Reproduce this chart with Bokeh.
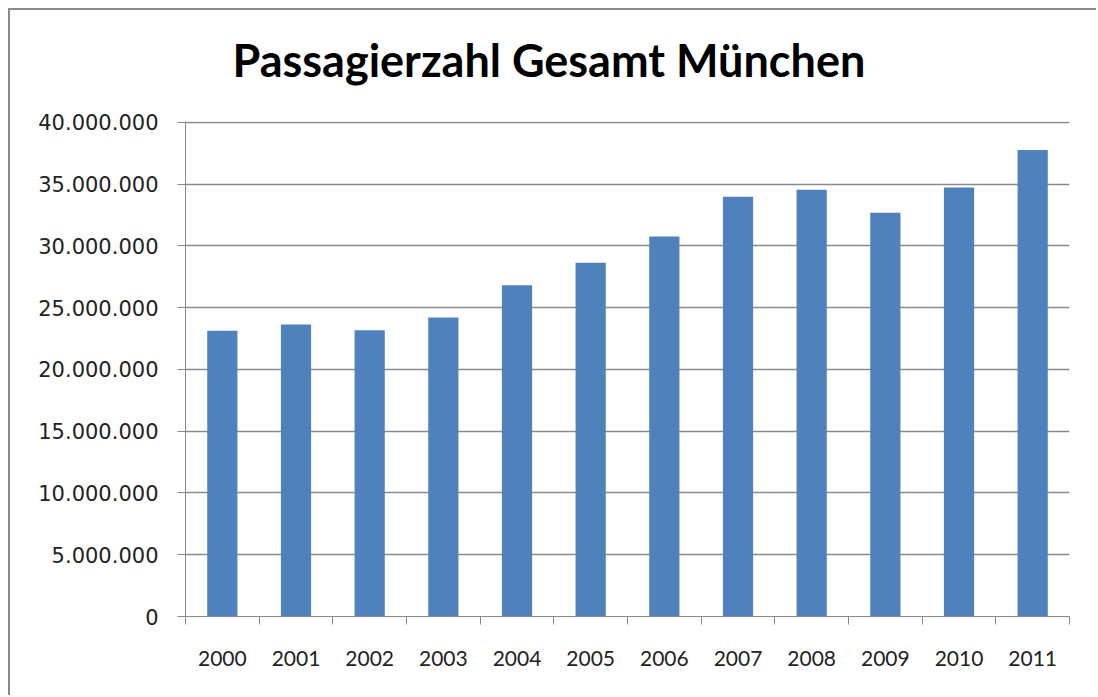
from bokeh.plotting import figure
from bokeh.models import FixedTicker, Range1d, Title
from bokeh.embed import file_html
from bokeh.resources import INLINE

years = ["2000", "2001", "2002", "2003", "2004", "2005", "2006", "2007", "2008", "2009", "2010", "2011"]
passengers = [23_120_000, 23_640_000, 23_160_000, 24_190_000, 26_810_000, 28_620_000,
              30_760_000, 33_960_000, 34_530_000, 32_680_000, 34_720_000, 37_760_000]
y_ticks = [0, 5_000_000, 10_000_000, 15_000_000, 20_000_000, 25_000_000, 30_000_000, 35_000_000, 40_000_000]
y_tick_labels = ["0", "5.000.000", "10.000.000", "15.000.000", "20.000.000", "25.000.000",
                 "30.000.000", "35.000.000", "40.000.000"]
title_text = "Passagierzahl Gesamt München"

n = len(years)
centers = [i + 0.5 for i in range(n)]
bounds = list(range(n + 1))

p = figure(width=1088, height=687, output_backend="svg", toolbar_location=None,
           x_range=Range1d(0, n), y_range=Range1d(0, 40_060_000),
           min_border_left=175, min_border_right=29, min_border_top=111, min_border_bottom=81)
p.styles = {"margin-left": "10px", "margin-top": "10px",
            "box-shadow": "-2px -2px 0px 0px #8a8a8a"}

p.vbar(x=centers, top=passengers, width=0.41, bottom=0, fill_color="#4F81BD", line_color=None)

# small spacer between title and plot frame
p.add_layout(Title(text=" ", text_font_size="1px", standoff=9), "above")

p.title.text = title_text
p.title.text_font = "Lato"
p.title.text_font_style = "bold"
p.title.text_font_size = "45px"
p.title.align = "left"
p.title.offset = 47
p.title.vertical_align = "top"
p.title.text_color = "#000000"
p.title.standoff = 42

p.outline_line_color = None
p.background_fill_color = "white"
p.border_fill_color = "white"

# grid
p.xgrid.visible = False
p.ygrid.ticker = FixedTicker(ticks=y_ticks)
p.ygrid.grid_line_color = "#8a8a8a"
p.ygrid.grid_line_width = 1.5

# y axis
p.yaxis.ticker = FixedTicker(ticks=y_ticks)
p.yaxis.major_label_overrides = {t: l for t, l in zip(y_ticks, y_tick_labels)}
p.yaxis.major_label_text_font = "DejaVu Sans"
p.yaxis.major_label_text_font_size = "21px"
p.yaxis.major_label_text_color = "#222222"
p.yaxis.major_label_standoff = 19
p.yaxis.axis_line_color = "#8a8a8a"
p.yaxis.major_tick_line_color = "#8a8a8a"
p.yaxis.major_tick_out = 8
p.yaxis.major_tick_in = 0
p.yaxis.minor_tick_line_color = None

# x axis: ticks at category boundaries, labels at centers
p.xaxis.ticker = FixedTicker(ticks=centers, minor_ticks=bounds)
p.xaxis.major_label_overrides = {c: y for c, y in zip(centers, years)}
p.xaxis.major_label_text_font = "Lato"
p.xaxis.major_label_text_font_size = "21px"
p.xaxis.major_label_text_color = "#222222"
p.xaxis.major_label_standoff = 26
p.xaxis.axis_line_color = "#8a8a8a"
p.xaxis.major_tick_line_color = None
p.xaxis.minor_tick_line_color = "#8a8a8a"
p.xaxis.minor_tick_out = 8
p.xaxis.minor_tick_in = 0

open("out.html", "w").write(file_html(p, INLINE))
